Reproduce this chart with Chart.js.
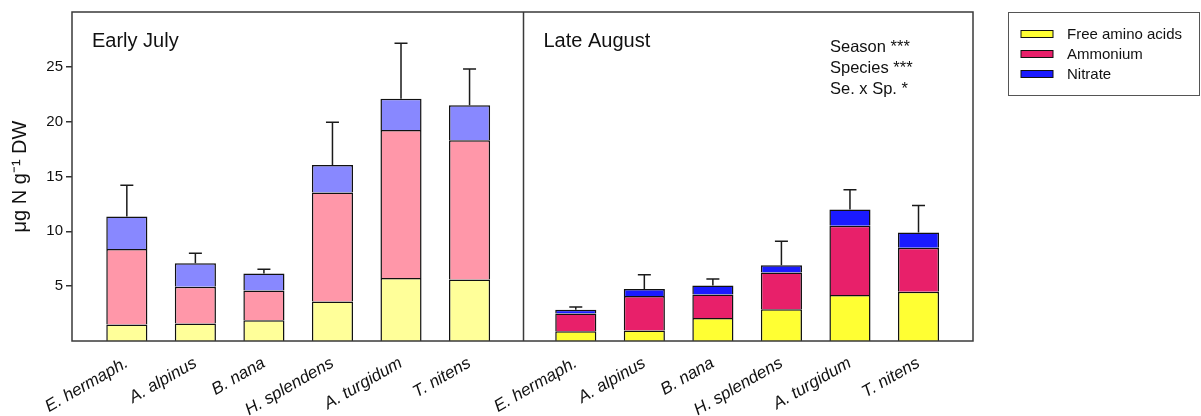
<!DOCTYPE html>
<html>
<head>
<meta charset="utf-8">
<script src="https://cdn.jsdelivr.net/npm/chart.js@4.4.1/dist/chart.umd.min.js"></script>
<style>
  html, body { margin: 0; padding: 0; background: #ffffff; }
  #wrap { position: relative; width: 1201px; height: 416px; }
</style>
</head>
<body>
<div id="wrap"><canvas id="c" width="1201" height="416"></canvas></div>
<script>
// Nitrogen pools (µg N per g dry weight) in six tundra species, two sampling periods
const species = ['E. hermaph.', 'A. alpinus', 'B. nana', 'H. splendens', 'A. turgidum', 'T. nitens'];
const periods = ['Early July', 'Late August'];
const componentNames = ['Free amino acids', 'Ammonium', 'Nitrate'];

const julyAmino     = [1.5, 1.6, 1.9, 3.6, 5.75, 5.6];
const julyAmmonium  = [6.9, 3.35, 2.7, 9.95, 13.5, 12.7];
const julyNitrate   = [2.95, 2.15, 1.55, 2.5, 2.85, 3.2];
const julySE        = [2.85, 0.9, 0.4, 3.9, 5.05, 3.3];

const augAmino      = [0.9, 0.95, 2.1, 2.9, 4.2, 4.5];
const augAmmonium   = [1.6, 3.15, 2.15, 3.35, 6.3, 4.0];
const augNitrate    = [0.35, 0.65, 0.8, 0.65, 1.5, 1.4];
const augSE         = [0.25, 1.3, 0.6, 2.2, 1.8, 2.45];

const yTicks = [5, 10, 15, 20, 25];
const statsLines = ['Season ***', 'Species ***', 'Se. x Sp. *'];

// colours: pale shades for July, saturated for August
const julyColors = ['#FFFF99', '#FF97A9', '#8888FF'];
const augColors  = ['#FFFF33', '#E8206A', '#1A1AFF'];

const FONT = '"Liberation Sans", Arial, Helvetica, sans-serif';
const AUG_SHIFT = 6.55;            // August bars sit after the July panel
const n = species.length;

const xPos = [];
const xLabel = {};
species.forEach((s, i) => { xPos.push(i); xLabel[i] = s; });
species.forEach((s, i) => { const v = +(i + AUG_SHIFT).toFixed(2); xPos.push(v); xLabel[v] = s; });

function series(july, aug) {
  return july.map((v, i) => ({ x: i, y: v })).concat(aug.map((v, i) => ({ x: +(i + AUG_SHIFT).toFixed(2), y: v })));
}
function colours(k) {
  return species.map(() => julyColors[k]).concat(species.map(() => augColors[k]));
}

const totals = julyAmino.map((v, i) => v + julyAmmonium[i] + julyNitrate[i])
  .concat(augAmino.map((v, i) => v + augAmmonium[i] + augNitrate[i]));
const errors = julySE.concat(augSE);

const barStyle = {
  borderColor: '#111111',
  borderWidth: { top: 1.5, left: 1.5, right: 1.5, bottom: 0 },
  borderSkipped: false,
  categoryPercentage: 1,
  barPercentage: 0.6
};

const datasets = [
  Object.assign({ label: componentNames[0], data: series(julyAmino, augAmino), backgroundColor: colours(0) }, barStyle),
  Object.assign({ label: componentNames[1], data: series(julyAmmonium, augAmmonium), backgroundColor: colours(1) }, barStyle),
  Object.assign({ label: componentNames[2], data: series(julyNitrate, augNitrate), backgroundColor: colours(2) }, barStyle)
];

// frame, panel divider, panel titles, statistics, legend and error bars
const decorations = {
  id: 'decorations',
  afterDatasetsDraw(chart) {
    const ctx = chart.ctx;
    const a = chart.chartArea;
    const xs = chart.scales.x, ys = chart.scales.y;

    // error bars (upper half only) above each stacked total
    ctx.save();
    ctx.strokeStyle = '#1a1a1a';
    ctx.lineWidth = 1.5;
    totals.forEach((t, i) => {
      const px = xs.getPixelForValue(xPos[i]);
      const y0 = ys.getPixelForValue(t);
      const y1 = ys.getPixelForValue(t + errors[i]);
      ctx.beginPath();
      ctx.moveTo(px, y0);
      ctx.lineTo(px, y1);
      ctx.moveTo(px - 6.5, y1);
      ctx.lineTo(px + 6.5, y1);
      ctx.stroke();
    });
    ctx.restore();

    // frame and divider
    ctx.save();
    ctx.strokeStyle = '#3a3a3a';
    ctx.lineWidth = 1.5;
    ctx.strokeRect(a.left, a.top, a.right - a.left, a.bottom - a.top);
    const divX = Math.round(xs.getPixelForValue((n - 1 + AUG_SHIFT) / 2)) + 0.5;
    ctx.beginPath();
    ctx.moveTo(divX, a.top);
    ctx.lineTo(divX, a.bottom);
    ctx.stroke();

    // panel titles
    ctx.fillStyle = '#111111';
    ctx.textBaseline = 'alphabetic';
    ctx.textAlign = 'left';
    ctx.font = '20px ' + FONT;
    ctx.fillText(periods[0], a.left + 20, a.top + 35);
    ctx.fillText(periods[1], divX + 20, a.top + 35);

    // statistics
    ctx.font = '16.5px ' + FONT;
    statsLines.forEach((s, i) => ctx.fillText(s, 830, a.top + 39.5 + i * 21));

    // legend box
    const lx = 1008.5, ly = 12.5, lw = 191, lh = 83;
    ctx.strokeStyle = '#555555';
    ctx.lineWidth = 1;
    ctx.strokeRect(lx, ly, lw, lh);
    ctx.font = '15px ' + FONT;
    ctx.textBaseline = 'middle';
    componentNames.forEach((name, k) => {
      const cy = 34 + k * 20;
      ctx.fillStyle = augColors[k];
      ctx.fillRect(1021, cy - 3.5, 32, 7);
      ctx.strokeStyle = '#111111';
      ctx.strokeRect(1021, cy - 3.5, 32, 7);
      ctx.fillStyle = '#111111';
      ctx.fillText(name, 1067, cy + 0.5);
    });
    ctx.restore();
  }
};

new Chart(document.getElementById('c'), {
  type: 'bar',
  data: { datasets },
  options: {
    responsive: false,
    animation: false,
    devicePixelRatio: 1,
    layout: { padding: { top: 12, right: 228, left: 0, bottom: 0 } },
    plugins: { legend: { display: false }, tooltip: { enabled: false } },
    scales: {
      x: {
        type: 'linear',
        stacked: true,
        offset: false,
        min: -0.8,
        max: n - 1 + AUG_SHIFT + 0.795,
        grid: { display: false, offset: false },
        border: { display: false },
        afterBuildTicks(scale) { scale.ticks = xPos.map(v => ({ value: v })); },
        afterFit(scale) { scale.height = 75; },
        ticks: {
          autoSkip: false,
          minRotation: 30,
          maxRotation: 30,
          padding: 4,
          color: '#111111',
          font: { family: FONT, size: 17, style: 'italic' },
          callback(v) { return xLabel[+(+v).toFixed(2)] || ''; }
        }
      },
      y: {
        stacked: true,
        min: 0,
        max: 30,
        border: { display: false },
        grid: { drawOnChartArea: false, drawTicks: true, tickLength: 6, color: '#333333', lineWidth: 1.5 },
        afterBuildTicks(scale) { scale.ticks = yTicks.map(v => ({ value: v })); },
        afterFit(scale) { scale.width = 72; },
        ticks: {
          padding: 3,
          color: '#111111',
          font: { family: FONT, size: 15 }
        },
        title: {
          display: true,
          text: 'μg N g⁻¹ DW',
          color: '#111111',
          font: { family: FONT, size: 20 },
          padding: { top: 8, bottom: 0 }
        }
      }
    }
  },
  plugins: [decorations]
});
</script>
</body>
</html>
